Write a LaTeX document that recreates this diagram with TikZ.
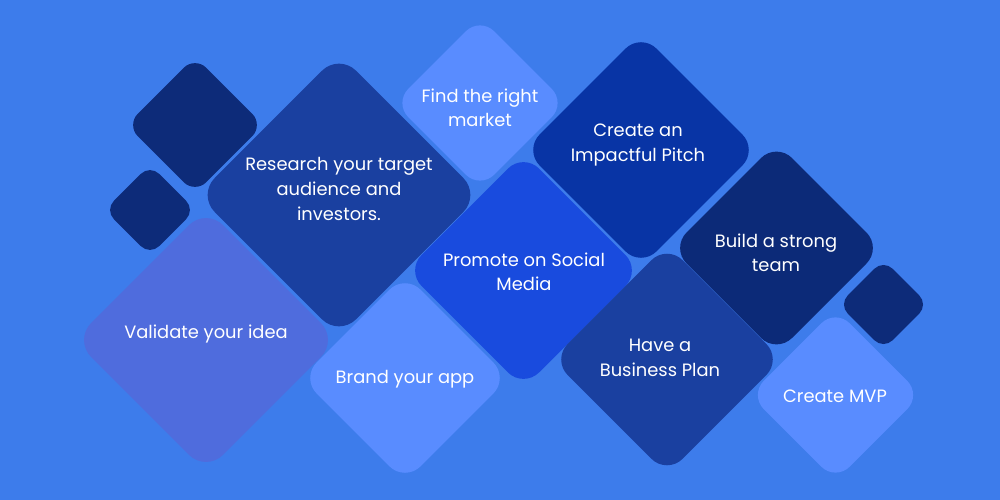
\documentclass[tikz,border=0pt]{standalone}
\usepackage{fontspec}
\setmainfont{Poppins}
\usetikzlibrary{shapes.geometric}
\definecolor{bg}{RGB}{61,124,235}
\definecolor{navy}{RGB}{13,43,121}
\definecolor{deep}{RGB}{26,64,160}
\definecolor{violet}{RGB}{79,108,221}
\definecolor{light}{RGB}{89,140,255}
\definecolor{royal}{RGB}{25,75,222}
\definecolor{cobalt}{RGB}{8,52,165}
\definecolor{midnight}{RGB}{12,42,120}
\begin{document}
\begin{tikzpicture}[x=0.75pt,y=-0.75pt,
  tile/.style n args={2}{diamond, shape aspect=1, inner sep=0pt, draw=none,
    minimum width=#1, minimum height=#1, rounded corners=#2},
  lbl/.style={text=white, align=center, font=\fontsize{13.4pt}{18.4pt}\selectfont, inner sep=0pt}]
\fill[bg] (0,0) rectangle (1000,500);
\useasboundingbox (0,0) rectangle (1000,500);
% tiles
\node[tile={102.9pt}{12pt}, fill=navy] (A) at (195,125) {};
\node[tile={68.1pt}{9.75pt}, fill=navy] (B) at (150,210) {};
\node[tile={212.1pt}{18pt}, fill=deep] (C) at (339,195) {};
\node[tile={198pt}{18pt}, fill=violet] (D) at (206,340) {};
\node[tile={156pt}{16.5pt}, fill=light] (E) at (405,378) {};
\node[tile={129pt}{15pt}, fill=light] (F) at (480,103) {};
\node[tile={176.4pt}{16.5pt}, fill=royal] (G) at (523.5,270.5) {};
\node[tile={175.5pt}{16.5pt}, fill=cobalt] (H) at (641,150) {};
\node[tile={158.4pt}{16.5pt}, fill=midnight] (I) at (776.5,248) {};
\node[tile={67.5pt}{9.75pt}, fill=navy] (J) at (883.5,304.5) {};
\node[tile={172.5pt}{16.5pt}, fill=deep] (K) at (667,359.5) {};
\node[tile={129pt}{15pt}, fill=light] (L) at (835.5,395) {};
% labels
\node[lbl] (tC) at (339,189) {Research your target\\audience and\\investors.};
\node[lbl] (tF) at (480,108) {Find the right\\market};
\node[lbl] (tH) at (638,145) {Create an\\Impactful Pitch};
\node[lbl] (tG) at (524,272) {Promote on Social\\Media};
\node[lbl] (tI) at (776,253) {Build a strong\\team};
\node[lbl] (tD) at (206,334) {Validate your idea};
\node[lbl] (tE) at (405,379) {Brand your app};
\node[lbl] (tK) at (660,358) {Have a\\Business Plan};
\node[lbl] (tL) at (835,396) {Create MVP};
\end{tikzpicture}
\end{document}
